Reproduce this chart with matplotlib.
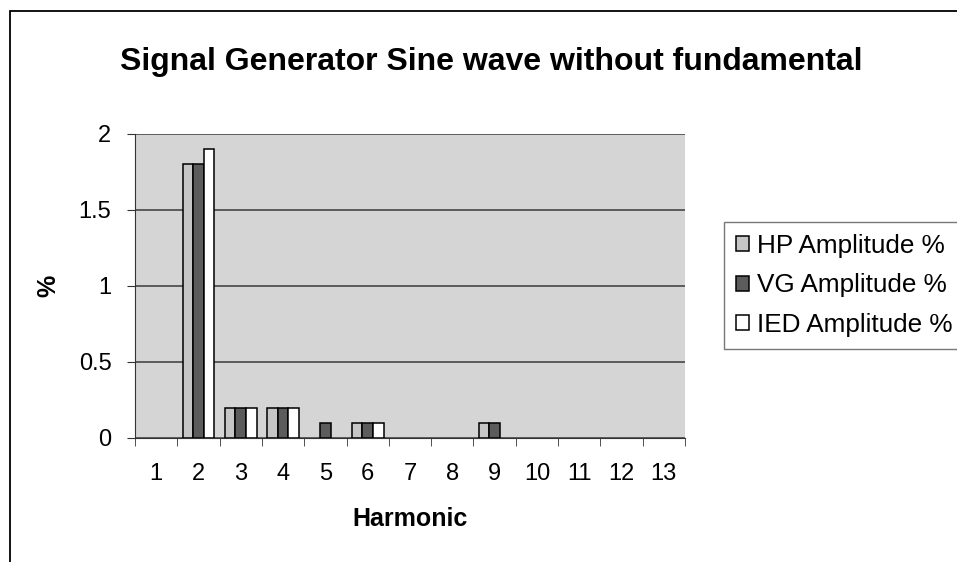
import numpy as np
import matplotlib.pyplot as plt
from matplotlib.patches import Rectangle

plt.rcParams['font.family'] = ['Liberation Sans', 'DejaVu Sans']

harmonics = list(range(1, 14))
hp_amp = [0, 1.8, 0.2, 0.2, 0, 0.1, 0, 0, 0.1, 0, 0, 0, 0]
vg_amp = [0, 1.8, 0.2, 0.2, 0.1, 0.1, 0, 0, 0.1, 0, 0, 0, 0]
ied_amp = [0, 1.9, 0.2, 0.2, 0, 0.1, 0, 0, 0, 0, 0, 0, 0]

series = [("HP Amplitude %", hp_amp, "#c6c6c6"),
          ("VG Amplitude %", vg_amp, "#5c5c5c"),
          ("IED Amplitude %", ied_amp, "#ffffff")]

fig = plt.figure(figsize=(9.57, 5.62), dpi=100)
# outer chart border (runs off the right and bottom edges)
fig.patches.append(Rectangle((10 / 957, -0.05), 1.0, 1 - 11 / 562 + 0.05,
                             transform=fig.transFigure, fill=False,
                             edgecolor="black", linewidth=1.3))

ax = fig.add_axes([135 / 957, 1 - 438 / 562, 550 / 957, 304 / 562])
ax.set_facecolor("#d5d5d5")

x = np.arange(len(harmonics))
w = 0.25
for i, (name, vals, col) in enumerate(series):
    vals = np.array(vals, dtype=float)
    mask = vals > 0
    ax.bar(x[mask] + (i - 1) * w, vals[mask], width=w, color=col,
           edgecolor="black", linewidth=1.1, label=name, zorder=3)

ax.set_xlim(-0.5, len(harmonics) - 0.5)
ax.set_ylim(0, 2)
ax.set_yticks([0, 0.5, 1, 1.5, 2])
ax.set_yticklabels(["0", "0.5", "1", "1.5", "2"])
ax.set_xticks(x)
ax.set_xticklabels([str(h) for h in harmonics])
ax.set_xticks(np.arange(len(harmonics) + 1) - 0.5, minor=True)
ax.tick_params(axis="x", which="major", length=0, pad=18, labelsize=17)
ax.tick_params(axis="x", which="minor", length=6, direction="out", color="#333333")
ax.tick_params(axis="y", length=6, direction="out", pad=11, labelsize=17, color="#333333")

ax.yaxis.grid(True, color="#3a3a3a", linewidth=1.1, zorder=1)
ax.set_axisbelow(True)
for side in ["top", "right"]:
    ax.spines[side].set_visible(False)
ax.spines["left"].set_color("#333333")
ax.spines["bottom"].set_color("#333333")

ax.set_xlabel("Harmonic", fontsize=18, fontweight="bold", labelpad=16)
ax.set_ylabel("%", fontsize=18, fontweight="bold", labelpad=13)
fig.text(491 / 957, 1 - 70 / 562, "Signal Generator Sine wave without fundamental",
         ha="center", va="baseline", fontsize=23, fontweight="bold")

leg = ax.legend(loc="center left", bbox_to_anchor=(1.071, 0.502), fontsize=18.8,
                frameon=True, fancybox=False, edgecolor="#555555",
                handlelength=0.5, handleheight=0.5, handletextpad=0.3,
                labelspacing=0.6, borderpad=0.45, borderaxespad=0)
leg.get_frame().set_linewidth(1.0)

fig.savefig("out.png", dpi=100, facecolor="white")
